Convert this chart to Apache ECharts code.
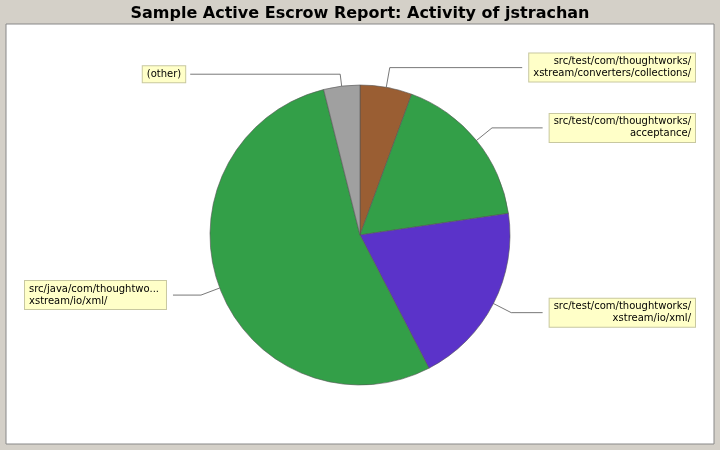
<!DOCTYPE html>
<html><head><meta charset="utf-8">
<script src="https://cdn.jsdelivr.net/npm/echarts@6/dist/echarts.min.js"></script>
<style>html,body{margin:0;padding:0;background:#D4D0C8}#c{width:720px;height:450px}</style>
</head><body><div id="c"></div>
<script>
const categories = [
  "src/test/com/thoughtworks/\nxstream/converters/collections/",
  "src/test/com/thoughtworks/\nacceptance/",
  "src/test/com/thoughtworks/\nxstream/io/xml/",
  "src/java/com/thoughtworks/\nxstream/io/xml/",
  "(other)"
];
const values = [5.6, 17.1, 19.7, 53.7, 3.9];
const colors = ["#9A5E33", "#339F48", "#5B33C9", "#339F48", "#A0A0A0"];

const chart = echarts.init(document.getElementById('c'));
chart.setOption({
  backgroundColor: '#D4D0C8',
  animation: false,
  title: { text: 'Sample Active Escrow Report: Activity of jstrachan', left: 'center', top: 1,
    textStyle: { fontFamily: 'DejaVu Sans', fontWeight: 'bold', fontSize: 16, color: '#000' } },
  graphic: [{ type: 'rect', shape: { x: 6, y: 24, width: 708, height: 420 },
    style: { fill: '#fff', stroke: '#888', lineWidth: 1 }, z: -10 }],
  series: [{
    type: 'pie', center: [360, 235], radius: 150, startAngle: 90, clockwise: true,
    data: categories.map((c, i) => {
      const d = { name: c, value: values[i], itemStyle: { color: colors[i] } };
      if (i === 4) d.label = { alignTo: 'none' };
      if (i === 4) d.labelLine = { length: 12, length2: 150 };
      return d;
    }),
    itemStyle: { borderColor: '#555', borderWidth: 0.6 },
    label: {
      show: true, position: 'outside', alignTo: 'edge', edgeDistance: 25,
      formatter: '{b}', fontFamily: 'DejaVu Sans', fontSize: 10, color: '#000', lineHeight: 12,
      backgroundColor: '#FFFFC8', borderColor: '#C8C8A0', borderWidth: 1, padding: [2, 4],
      align: 'center'
    },
    labelLine: { show: true, length: 20, length2: 30, lineStyle: { color: '#555', width: 0.8 } }
  }]
});
</script></body></html>
